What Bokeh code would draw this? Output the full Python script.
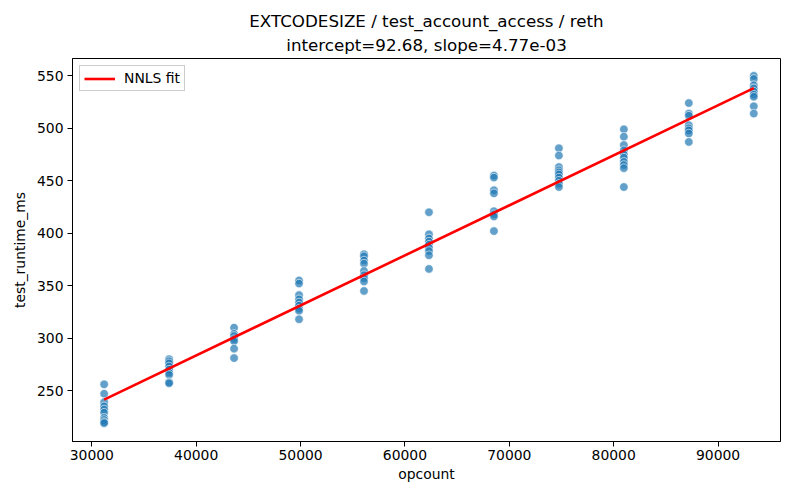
from bokeh.plotting import figure
from bokeh.models import ColumnDataSource, FixedTicker, Title, Legend, LegendItem, BasicTickFormatter
from bokeh.embed import file_html
from bokeh.resources import INLINE

# ---- data ----
opcount_levels = [31180, 37404, 43628, 49852, 56076, 62300, 68524, 74748, 80972, 87196, 93420]
runtimes_per_level = [
    [256, 247, 239, 235, 232, 229, 224, 222, 220, 219],
    [280, 278, 276, 273, 270, 267, 265, 258, 257],
    [310, 304, 302, 299, 297, 290, 281],
    [355, 352, 341, 337, 334, 331, 328, 326, 318],
    [380, 378, 374, 371, 364, 360, 357, 354, 345],
    [420, 399, 395, 392, 389, 386, 383, 379, 366],
    [455, 453, 441, 438, 421, 418, 416, 402],
    [481, 474, 463, 460, 458, 456, 453, 450, 447, 444],
    [499, 492, 484, 479, 475, 472, 468, 465, 462, 444],
    [524, 514, 512, 503, 500, 498, 495, 487],
    [550, 547, 541, 538, 535, 532, 530, 521, 514],
]
fit_intercept = 92.68
fit_slope = 4.77e-03
x_ticks = [30000, 40000, 50000, 60000, 70000, 80000, 90000]
y_ticks = [250, 300, 350, 400, 450, 500, 550]
title_main = "EXTCODESIZE / test_account_access / reth"
title_sub = "intercept=92.68, slope=4.77e-03"

xs, ys = [], []
for xv, vals in zip(opcount_levels, runtimes_per_level):
    for v in vals:
        xs.append(xv)
        ys.append(v)

FONT = "DejaVu Sans"

p = figure(width=784, height=484, output_backend="svg", toolbar_location=None,
           x_range=(28148, 95979), y_range=(201.5, 566.5),
           min_border_left=72, min_border_right=4, min_border_top=58, min_border_bottom=42,
           title=None)

p.add_layout(Title(text=title_sub, align="center",
                   text_font=FONT, text_font_size="16.7px", text_font_style="normal",
                   text_color="black", standoff=8), "above")
p.add_layout(Title(text=title_main, align="center",
                   text_font=FONT, text_font_size="16.7px", text_font_style="normal",
                   text_color="black", standoff=-5), "above")

src = ColumnDataSource(dict(x=xs, y=ys))
p.scatter("x", "y", source=src, size=8.5, fill_color="#1f77b4", fill_alpha=0.7,
          line_color="white", line_width=0.6)

x_line = [min(opcount_levels), max(opcount_levels)]
y_line = [fit_intercept + fit_slope * v for v in x_line]
line_r = p.line(x_line, y_line, line_color="red", line_width=2.6)

legend = Legend(items=[LegendItem(label="NNLS fit", renderers=[line_r])],
                location="top_left")
legend.label_text_font = FONT
legend.label_text_font_size = "13.9px"
legend.label_text_color = "black"
legend.glyph_width = 31
legend.glyph_height = 15
legend.border_line_color = "#cccccc"
legend.border_line_alpha = 1
legend.background_fill_alpha = 0.8
legend.margin = 7
legend.padding = 4
legend.spacing = 0
legend.label_standoff = 9
p.add_layout(legend, "center")

p.xgrid.visible = False
p.ygrid.visible = False
p.outline_line_color = "black"
p.outline_line_alpha = 1
p.outline_line_width = 1

p.xaxis.ticker = FixedTicker(ticks=x_ticks)
p.yaxis.ticker = FixedTicker(ticks=y_ticks)
for ax in (p.xaxis, p.yaxis):
    ax.major_label_text_font = FONT
    ax.major_label_text_font_size = "13.9px"
    ax.major_label_text_color = "black"
    ax.axis_label_text_font = FONT
    ax.axis_label_text_font_size = "13.9px"
    ax.axis_label_text_font_style = "normal"
    ax.axis_label_text_color = "black"
    ax.major_tick_out = 5
    ax.major_tick_in = 0
    ax.minor_tick_out = 0
    ax.minor_tick_in = 0
    ax.axis_line_color = "black"
    ax.major_tick_line_color = "black"
p.xaxis.axis_label = "opcount"
p.yaxis.axis_label = "test_runtime_ms"
p.xaxis.major_label_standoff = 3
p.yaxis.major_label_standoff = 4
p.xaxis.axis_label_standoff = 3
p.yaxis.axis_label_standoff = 6
p.xaxis.formatter = BasicTickFormatter(use_scientific=False)

open("out.html", "w").write(file_html(p, INLINE))
